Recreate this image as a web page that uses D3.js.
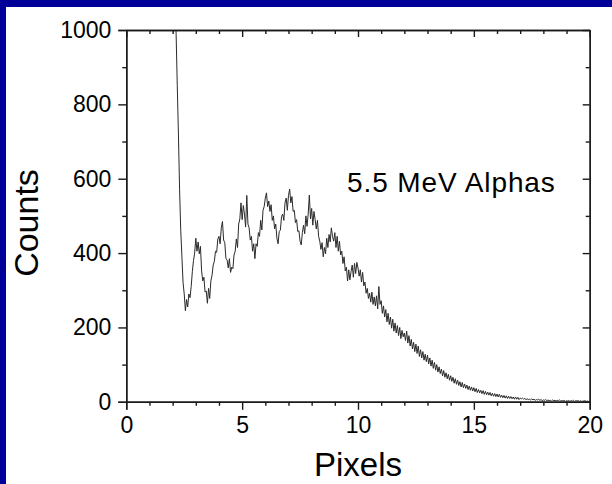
<!DOCTYPE html>
<html>
<head>
<meta charset="utf-8">
<script src="https://cdn.jsdelivr.net/npm/d3@7"></script>
<style>
  html, body { margin: 0; padding: 0; background: #fff; }
  svg { display: block; font-family: "Liberation Sans", Arial, sans-serif; }
  .axis path, .axis line { stroke: #1a1a1a; stroke-width: 1.4; }
  .axis text { fill: #000; font-size: 23px; font-family: "Liberation Sans", Arial, sans-serif; }
</style>
</head>
<body>
<div id="graph"></div>
<script>
`use strict`;

// spectrum bins: first bin centre and bin width (pixels)
let binStart = 2.0;
let binWidth = 0.05;

// counts per bin, one row per pixel unit (2.00 .. 20.00)
let counts = [
    1600, 1350, 1100, 990, 850, 720, 570, 460, 390, 320, 290, 245, 275, 255, 290, 280, 310, 350, 380, 400,
    440, 405, 430, 398, 418, 352, 325, 335, 295, 298, 265, 305, 278, 325, 340, 368, 378, 405, 402, 438,
    445, 425, 468, 485, 435, 428, 385, 382, 360, 385, 348, 362, 358, 395, 405, 438, 415, 478, 492, 535,
    490, 528, 505, 470, 555, 478, 468, 435, 445, 405, 425, 385, 425, 418, 455, 445, 488, 462, 515, 525,
    548, 562, 525, 540, 512, 530, 488, 500, 465, 478, 440, 425, 458, 462, 498, 505, 488, 535, 548, 515,
    555, 572, 535, 552, 512, 515, 482, 490, 458, 460, 432, 422, 455, 475, 452, 500, 472, 505, 556, 492,
    520, 475, 512, 490, 465, 488, 445, 432, 410, 428, 390, 415, 398, 440, 415, 450, 430, 468, 445, 432,
    455, 415, 445, 405, 432, 395, 405, 372, 390, 352, 362, 325, 355, 328, 350, 368, 335, 372, 345, 375,
    360, 338, 355, 322, 348, 312, 322, 292, 305, 278, 292, 268, 295, 262, 282, 258, 285, 250, 310, 262,
    272, 238, 258, 228, 248, 215, 238, 208, 228, 198, 222, 190, 212, 185, 205, 178, 200, 170, 192, 175,
    185, 165, 190, 158, 178, 150, 168, 142, 160, 135, 155, 130, 150, 122, 140, 118, 135, 112, 128, 108,
    125, 102, 118, 96, 112, 90, 106, 85, 100, 80, 94, 76, 88, 70, 84, 66, 78, 62, 74, 58,
    70, 55, 66, 50, 62, 47, 58, 44, 54, 40, 52, 38, 48, 36, 45, 33, 42, 31, 40, 29,
    38, 27, 36, 25, 33, 24, 31, 22, 30, 20, 28, 19, 26, 18, 25, 16, 23, 15, 22, 14,
    21, 13, 20, 12, 18, 11, 17, 10, 16, 9, 15, 9, 14, 8, 13, 7, 13, 7, 12, 6,
    10, 8, 10, 7, 9, 6, 8, 6, 7, 5, 8, 5, 7, 4, 6, 5, 7, 4, 6, 3,
    5, 4, 6, 3, 5, 3, 4, 2, 5, 3, 4, 2, 4, 3, 5, 2, 3, 2, 4, 1,
    3, 2, 3, 1, 3, 2, 4, 1, 3, 2, 3, 1, 3, 1, 2, 2, 3, 1, 2, 1,
    2
];

let xMajorTicks = [0, 5, 10, 15, 20];
let xMinorTicks = [1, 2, 3, 4, 6, 7, 8, 9, 11, 12, 13, 14, 16, 17, 18, 19];
let yMajorTicks = [0, 200, 400, 600, 800, 1000];
let yMinorTicks = [100, 300, 500, 700, 900];

let xTitle = 'Pixels';
let yTitle = 'Counts';
let note = '5.5 MeV Alphas';

let w = 612, h = 484;
let plot = {left: 126.3, right: 589.7, top: 30, bottom: 401.8};

let svg = d3.select('#graph').append('svg').attr('width', w).attr('height', h);

// slide background: white with a blue strip on top and left
svg.append('rect').attr('width', w).attr('height', h).attr('fill', '#fff');
svg.append('rect').attr('width', w).attr('height', 7).attr('fill', '#000099');
svg.append('rect').attr('width', 6).attr('height', h).attr('fill', '#000099');

let x = d3.scaleLinear().domain([0, 20]).range([plot.left, plot.right]);
let y = d3.scaleLinear().domain([0, 1000]).range([plot.bottom, plot.top]);

let data = counts.map(function(c, i){ return {px: binStart + i * binWidth, c: c}; });

svg.append('clipPath').attr('id', 'clip')
    .append('rect')
    .attr('x', plot.left).attr('y', plot.top)
    .attr('width', plot.right - plot.left).attr('height', plot.bottom - plot.top);

svg.append('path')
    .datum(data)
    .attr('clip-path', 'url(#clip)')
    .attr('fill', 'none')
    .attr('stroke', '#2a2a2a')
    .attr('stroke-width', 1)
    .attr('d', d3.line().x(function(d){ return x(d.px); }).y(function(d){ return y(d.c); }));

// bottom axis (outward ticks, labelled)
svg.append('g').attr('class', 'axis')
    .attr('transform', 'translate(0,' + plot.bottom + ')')
    .call(d3.axisBottom(x).tickValues(xMajorTicks).tickSize(8).tickPadding(7).tickFormat(d3.format('d')));
svg.append('g').attr('class', 'axis')
    .attr('transform', 'translate(0,' + plot.bottom + ')')
    .call(d3.axisBottom(x).tickValues(xMinorTicks).tickSize(4).tickSizeOuter(0).tickFormat(''));

// left axis (outward ticks, labelled)
svg.append('g').attr('class', 'axis')
    .attr('transform', 'translate(' + plot.left + ',0)')
    .call(d3.axisLeft(y).tickValues(yMajorTicks).tickSize(8).tickPadding(7).tickFormat(d3.format('d')));
svg.append('g').attr('class', 'axis')
    .attr('transform', 'translate(' + plot.left + ',0)')
    .call(d3.axisLeft(y).tickValues(yMinorTicks).tickSize(4).tickSizeOuter(0).tickFormat(''));

// top and right mirror axes (inward ticks, no labels)
svg.append('g').attr('class', 'axis')
    .attr('transform', 'translate(0,' + plot.top + ')')
    .call(d3.axisTop(x).tickValues(xMajorTicks).tickSize(-7).tickSizeOuter(0).tickFormat(''));
svg.append('g').attr('class', 'axis')
    .attr('transform', 'translate(0,' + plot.top + ')')
    .call(d3.axisTop(x).tickValues(xMinorTicks).tickSize(-4).tickSizeOuter(0).tickFormat(''));
svg.append('g').attr('class', 'axis')
    .attr('transform', 'translate(' + plot.right + ',0)')
    .call(d3.axisRight(y).tickValues(yMajorTicks).tickSize(-7).tickSizeOuter(0).tickFormat(''));
svg.append('g').attr('class', 'axis')
    .attr('transform', 'translate(' + plot.right + ',0)')
    .call(d3.axisRight(y).tickValues(yMinorTicks).tickSize(-4).tickSizeOuter(0).tickFormat(''));

// titles
svg.append('text')
    .attr('text-anchor', 'middle')
    .attr('x', (plot.left + plot.right) / 2).attr('y', 476)
    .attr('font-size', 33).attr('fill', '#000')
    .text(xTitle);
svg.append('text')
    .attr('text-anchor', 'middle')
    .attr('transform', 'translate(38,223)rotate(-90)')
    .attr('font-size', 34).attr('fill', '#000')
    .text(yTitle);
svg.append('text')
    .attr('x', 347).attr('y', 192)
    .attr('font-size', 28).attr('letter-spacing', 0.9).attr('fill', '#000')
    .text(note);
</script>
</body>
</html>
